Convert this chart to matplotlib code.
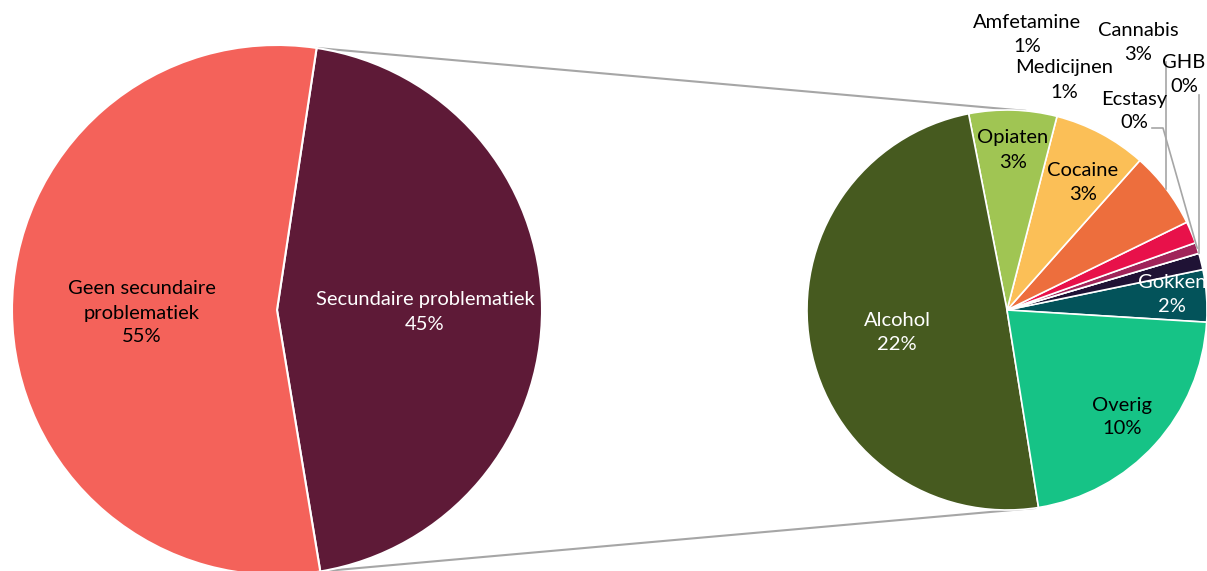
import numpy as np
import matplotlib
matplotlib.use('Agg')
import matplotlib.pyplot as plt

# main pie
main_labels = ['Secundaire problematiek', 'Geen secundaire\nproblematiek']
main_values = [45, 55]
main_colors = ['#5E1A37', '#F4625A']

# breakdown of the secondary problems (share of total, %)
sub_labels = ['Gokken', 'Medicijnen', 'GHB', 'Ecstasy', 'Amfetamine',
              'Cannabis', 'Cocaine', 'Opiaten', 'Alcohol', 'Overig']
sub_values = [1.9, 0.6, 0.0, 0.4, 0.8, 2.8, 3.4, 3.2, 22.3, 9.7]
sub_colors = ['#03535A', '#1F1235', '#7F6A8A', '#A02459', '#E8114A',
              '#ED6E3D', '#FBBF57', '#A0C553', '#465A1F', '#16C386']

W, H = 1207, 571
plt.rcParams['font.family'] = ['Lato', 'DejaVu Sans']

fig = plt.figure(figsize=(W / 100, H / 100), dpi=100)
ax = fig.add_axes([0, 0, 1, 1])
ax.set_xlim(0, W)
ax.set_ylim(0, H)
ax.set_aspect('equal')
ax.axis('off')


def px(x, y):
    return x, H - y


c1, r1 = px(277, 310), 265
c2, r2 = px(1007, 310), 200

w1, _ = ax.pie(main_values, colors=main_colors, startangle=-80.6,
               center=c1, radius=r1, frame=True,
               wedgeprops=dict(edgecolor='white', linewidth=1.5))
w2, _ = ax.pie(sub_values, colors=sub_colors, startangle=-3.5,
               center=c2, radius=r2, frame=True,
               wedgeprops=dict(edgecolor='white', linewidth=1.2))
ax.set_xlim(0, W)
ax.set_ylim(0, H)
ax.axis('off')


def on_circle(c, r, ang):
    a = np.deg2rad(ang)
    return c[0] + r * np.cos(a), c[1] + r * np.sin(a)


# connector lines between the pies
sec = w1[0]
p_top = on_circle(c1, r1, sec.theta2)
p_bot = on_circle(c1, r1, sec.theta1)
q_top = on_circle(c2, r2, 84.8)
q_bot = on_circle(c2, r2, -81.9)
ax.plot([p_top[0], q_top[0]], [p_top[1], q_top[1]], color='#A6A6A6', lw=1.5, zorder=0)
ax.plot([p_bot[0], q_bot[0]], [p_bot[1], q_bot[1]], color='#A6A6A6', lw=1.5, zorder=0)

FS = 14.5
LS = 1.5


def pct(v):
    return f'{int(np.floor(v + 0.5))}%'


# main pie labels
main_pos = [(425, 312), (142, 313)]
main_tc = ['white', 'black']
for lab, v, pos, tc in zip(main_labels, main_values, main_pos, main_tc):
    ax.text(*px(*pos), f'{lab}\n{pct(v)}', ha='center', va='center',
            color=tc, fontsize=FS, linespacing=LS)

# sub pie labels (pixel positions of label centres)
sub_pos = {
    'Gokken': (1172, 294), 'Medicijnen': (1064, 80), 'GHB': (1184, 74),
    'Ecstasy': (1134, 111), 'Amfetamine': (1027, 35), 'Cannabis': (1138, 42),
    'Cocaine': (1083, 183), 'Opiaten': (1013, 150), 'Alcohol': (897, 332),
    'Overig': (1122, 417),
}
white_txt = {'Gokken', 'Alcohol'}
for lab, v in zip(sub_labels, sub_values):
    ax.text(*px(*sub_pos[lab]), f'{lab}\n{pct(v)}', ha='center', va='center',
            color='white' if lab in white_txt else 'black',
            fontsize=FS, linespacing=LS)

# leader lines for the thin slices
wd = dict(zip(sub_labels, w2))


def mid_edge(lab):
    w = wd[lab]
    return on_circle(c2, r2, (w.theta1 + w.theta2) / 2)


e = mid_edge('Cannabis')
ax.plot([e[0], e[0]], [e[1], px(0, 62)[1]], color='#A6A6A6', lw=1.2)
e = mid_edge('Ecstasy')
ax.plot([px(1152, 0)[0], px(1163, 0)[0], e[0]],
        [px(0, 128)[1], px(0, 128)[1], e[1]], color='#A6A6A6', lw=1.2)
e = mid_edge('GHB')
ax.plot([e[0], e[0]], [e[1], px(0, 95)[1]], color='#A6A6A6', lw=1.2)

fig.savefig('out.png', dpi=100)
